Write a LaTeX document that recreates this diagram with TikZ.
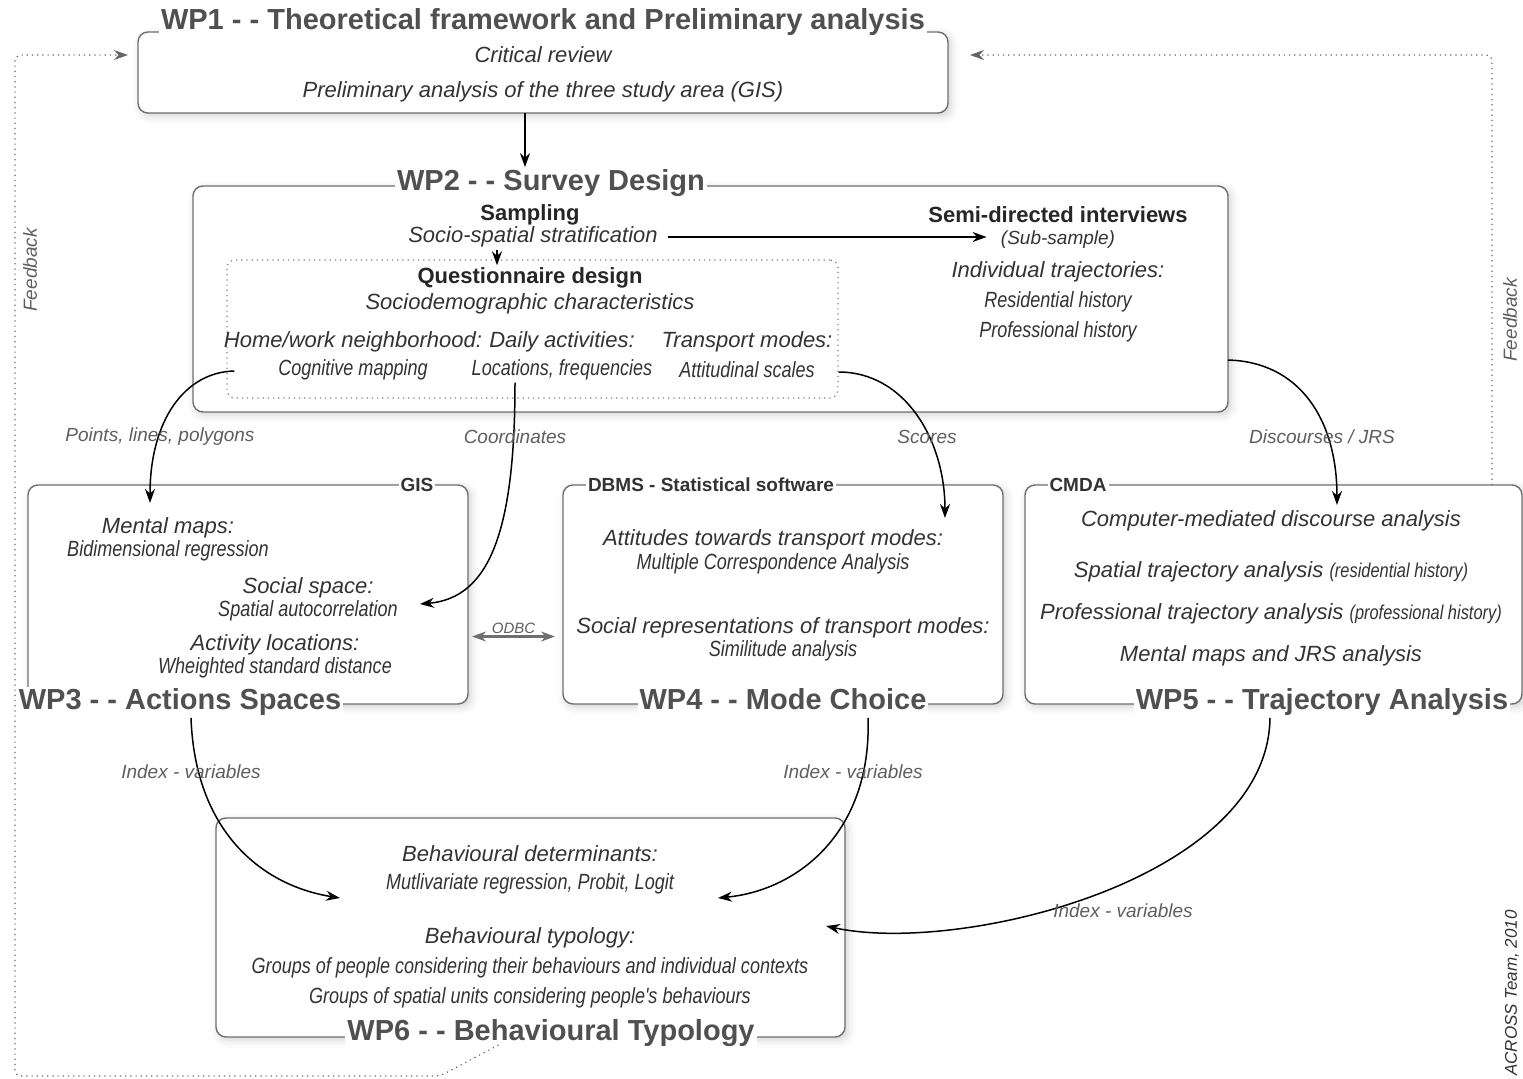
\documentclass[tikz,border=0pt]{standalone}
\usepackage{fontspec}
\setmainfont{Liberation Sans}
\newfontfamily\narrowfont[FakeStretch=0.82]{Liberation Sans}
\usetikzlibrary{arrows.meta,shadows.blur}

\definecolor{titlegrey}{HTML}{505050}
\definecolor{bodygrey}{HTML}{333333}
\definecolor{labgrey}{HTML}{5E5E5E}
\definecolor{linegrey}{HTML}{6E6E6E}

\newcommand\parenfont{\narrowfont\fontsize{10}{12}\selectfont}

\tikzset{
  wpbox/.style={draw=linegrey, line width=0.7pt, rounded corners=5pt, fill=white,
    inner sep=0pt, outer sep=0pt,
    blur shadow={shadow xshift=1.5pt, shadow yshift=-1.5pt, shadow blur radius=4pt, shadow opacity=18}},
  qbox/.style={draw=gray, dotted, line width=0.6pt, rounded corners=4pt, inner sep=0pt},
  wptitle/.style={font=\fontsize{14.5}{16}\selectfont\bfseries, text=titlegrey, fill=white,
    inner sep=1pt, text height=10.5pt, text depth=3pt},
  tool/.style={font=\fontsize{9.5}{11}\selectfont\bfseries, text=bodygrey, fill=white, inner sep=1pt},
  head/.style={font=\fontsize{11}{13}\selectfont\bfseries, text=black!85, inner sep=1pt},
  itm/.style={font=\fontsize{11}{13}\selectfont\itshape, text=bodygrey, inner sep=1pt},
  sub/.style={font=\narrowfont\itshape\fontsize{11}{13}\selectfont, text=bodygrey, inner sep=1pt},
  lab/.style={font=\fontsize{9.5}{11}\selectfont\itshape, text=labgrey, inner sep=1pt},
  conn/.style={draw=black, line width=0.75pt},
  fback/.style={draw=gray!80!black, dotted, line width=0.6pt, rounded corners=3pt}
}

\begin{document}
\begin{tikzpicture}[x=0.5pt, y=-0.5pt, >={Stealth[length=7pt,width=5pt]}]
\useasboundingbox (0,0) rectangle (1523,1078);

% WP1
\node[wpbox, minimum width=405pt, minimum height=40.5pt] (wp1) at (543,72.5) {};
\node[wptitle] (wp1t) at (543,22) {WP1 - - Theoretical framework and Preliminary analysis};
\node[itm] (crit) at (543,55) {Critical review};
\node[itm] (prel) at (543,92) {Preliminary analysis of the three study area (GIS)};

% WP2
\node[wpbox, minimum width=517.5pt, minimum height=113pt] (wp2) at (710.5,299) {};
\node[qbox, minimum width=305.5pt, minimum height=69pt] (quest) at (532.5,329) {};
\node[wptitle] (wp2t) at (551,183) {WP2 - - Survey Design};
\node[head] (samp) at (530,215) {Sampling};
\node[itm] (strat) at (533,237) {Socio-spatial stratification};
\node[head] (semi) at (1058,215) {Semi-directed interviews};
\node[lab, text=bodygrey] (subs) at (1058,240) {(Sub-sample)};
\node[itm] (indiv) at (1058,272) {Individual trajectories:};
\node[sub] (resid) at (1058,302) {Residential history};
\node[sub] (profh) at (1058,332) {Professional history};
\node[head] (qt) at (530,278) {Questionnaire design};
\node[itm] (socdem) at (530,304) {Sociodemographic characteristics};
\node[itm] (home) at (353,342) {Home/work neighborhood:};
\node[sub] (cog) at (353,370) {Cognitive mapping};
\node[itm] (daily) at (562,342) {Daily activities:};
\node[sub] (loc) at (562,370) {Locations, frequencies};
\node[itm] (trans) at (747,342) {Transport modes:};
\node[sub] (attit) at (747,370) {Attitudinal scales};

% WP3
\node[wpbox, minimum width=220pt, minimum height=109.5pt] (wp3) at (248,594.5) {};
\node[tool] (gis) at (417,485) {GIS};
\node[wptitle] (wp3t) at (180,702) {WP3 - - Actions Spaces};
\node[itm] (mm) at (168,528) {Mental maps:};
\node[sub] (bidim) at (168,551) {Bidimensional regression};
\node[itm] (socsp) at (308,588) {Social space:};
\node[sub] (autoc) at (308,611) {Spatial autocorrelation};
\node[itm] (actloc) at (275,645) {Activity locations:};
\node[sub] (wsd) at (275,668) {Wheighted standard distance};

% WP4
\node[wpbox, minimum width=220pt, minimum height=109.5pt] (wp4) at (783,594.5) {};
\node[tool] (dbms) at (711,485) {DBMS - Statistical software};
\node[wptitle] (wp4t) at (783,702) {WP4 - - Mode Choice};
\node[itm] (atti) at (773,540) {Attitudes towards transport modes:};
\node[sub] (mca) at (773,564) {Multiple Correspondence Analysis};
\node[itm] (srep) at (783,628) {Social representations of transport modes:};
\node[sub] (simil) at (783,651) {Similitude analysis};

% WP5
\node[wpbox, minimum width=248.5pt, minimum height=109.5pt] (wp5) at (1273.5,594.5) {};
\node[tool] (cmda) at (1078,485) {CMDA};
\node[wptitle] (wp5t) at (1322,702) {WP5 - - Trajectory Analysis};
\node[itm] (cmd) at (1271,521) {Computer-mediated discourse analysis};
\node[itm] (spat) at (1271,572) {Spatial trajectory analysis {\parenfont (residential history)}};
\node[itm] (proft) at (1271,614) {Professional trajectory analysis {\parenfont (professional history)}};
\node[itm] (mjrs) at (1271,656) {Mental maps and JRS analysis};

% WP6
\node[wpbox, minimum width=314.5pt, minimum height=109.5pt] (wp6) at (530.5,927.5) {};
\node[wptitle] (wp6t) at (551,1033) {WP6 - - Behavioural Typology};
\node[itm] (bdet) at (530,854) {Behavioural determinants:};
\node[sub] (mreg) at (530,884) {Mutlivariate regression, Probit, Logit};
\node[itm] (btyp) at (530,938) {Behavioural typology:};
\node[sub] (grp1) at (530,968) {Groups of people considering their behaviours and individual contexts};
\node[sub] (grp2) at (530,998) {Groups of spatial units considering people's behaviours};

% arrow ends
\coordinate (e3a) at (150,503);
\coordinate (e3b) at (420,604);
\coordinate (e4) at (945,518);
\coordinate (e5) at (1337,505);
\coordinate (e6a) at (340,898);
\coordinate (e6b) at (718,898);
\coordinate (e6c) at (826,926);

% links
\draw[conn,->] ([xshift=-9pt]wp1.south) -- ([xshift=-9pt]wp1.south |- wp2t.north);
\draw[conn,->] ([xshift=4pt]strat.east) -- ([xshift=-6pt]strat.east -| subs.west);
\draw[conn,->] ([xshift=-18pt]strat.south) -- ([xshift=-18pt]strat.south |- qt.north);
\draw[conn,->] ([xshift=4pt,yshift=-21pt]quest.west) .. controls (185,372) and (150,420) .. (e3a);
\draw[conn,->] ([xshift=-23.5pt]loc.south) .. controls (515,530) and (490,598) .. (e3b);
\draw[conn,->] ([yshift=-21.5pt]quest.east) .. controls (905,372) and (945,440) .. (e4);
\draw[conn,->] ([yshift=-30.5pt]wp2.east) .. controls (1300,362) and (1337,420) .. (e5);
\draw[conn,->] ([xshift=5.5pt]wp3t.south) .. controls (195,830) and (260,885) .. (e6a);
\draw[conn,->] ([xshift=42.5pt]wp4t.south) .. controls (872,830) and (800,890) .. (e6b);
\draw[conn,->] ([xshift=-26pt]wp5t.south) .. controls (1268,880) and (960,955) .. (e6c);
\draw[draw=linegrey, line width=1.1pt, <->] ([yshift=-21pt,xshift=2pt]wp3.east) -- node[above, lab, font=\fontsize{7.5}{9}\selectfont\itshape] (odbc) {ODBC} ([yshift=-21pt,xshift=-4pt]wp4.west);

% link labels
\node[lab] (lpts) at (160,437) {Points, lines, polygons};
\node[lab] (lcoord) at (515,437) {Coordinates};
\node[lab] (lscore) at (927,437) {Scores};
\node[lab] (ldisc) at (1322,437) {Discourses / JRS};
\node[lab] (lidx3) at (191,772) {Index - variables};
\node[lab] (lidx4) at (853,772) {Index - variables};
\node[lab] (lidx5) at (1123,911) {Index - variables};

% feedback
\draw[fback,->] ([xshift=-16pt,yshift=-4pt]wp6.south) -- (440,1076) -- (15,1076) -- (15,55) -- ([yshift=8.75pt,xshift=-5pt]wp1.west);
\draw[fback,->] ([xshift=-15pt]wp5.north east) -- (1492,55) -- ([yshift=8.75pt,xshift=11pt]wp1.east);
\node[lab, rotate=90] (fbl) at (30,270) {Feedback};
\node[lab, rotate=90] (fbr) at (1510,320) {Feedback};
\node[lab, rotate=90, text=bodygrey, font=\fontsize{8.5}{10}\selectfont\itshape] (team) at (1512,993) {ACROSS Team, 2010};
\end{tikzpicture}
\end{document}
